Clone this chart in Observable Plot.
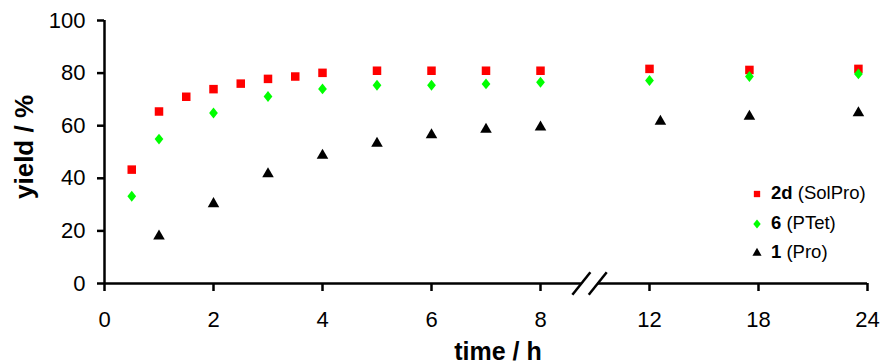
<!DOCTYPE html>
<html>
<head>
<meta charset="utf-8">
<script src="https://cdn.jsdelivr.net/npm/d3@7"></script>
<script src="https://cdn.jsdelivr.net/npm/@observablehq/plot@0.6"></script>
<style>
  html, body { margin: 0; padding: 0; background: #fff; }
  #wrap { position: relative; width: 882px; height: 363px; overflow: hidden; font-family: "Liberation Sans", Arial, sans-serif; }
  #legend { position: absolute; left: 750px; top: 180px; font-size: 18.5px; color: #000; }
  #legend .row { position: absolute; left: 0; white-space: nowrap; height: 26px; line-height: 26px; }
  #legend svg { vertical-align: middle; margin-right: 7px; }
</style>
</head>
<body>
<div id="wrap"></div>
<script>
// ---- data ----
const seriesNames = ["2d", "6", "1"];
const seriesNotes = ["(SolPro)", "(PTet)", "(Pro)"];
const seriesColors = ["#ff0000", "#00ff00", "#000000"];

const time2d = [0.5, 1, 1.5, 2, 2.5, 3, 3.5, 4, 5, 6, 7, 8, 12, 17.5, 23.5];
const yield2d = [43.3, 65.4, 71.0, 73.9, 76.0, 77.8, 78.7, 80.1, 80.9, 80.9, 80.9, 80.9, 81.6, 81.2, 81.6];

const time6 = [0.5, 1, 2, 3, 4, 5, 6, 7, 8, 12, 17.5, 23.5];
const yield6 = [33.2, 54.9, 64.8, 71.1, 74.0, 75.4, 75.4, 75.9, 76.5, 77.2, 78.7, 79.7];

const time1 = [1, 2, 3, 4, 5, 6, 7, 8, 12.6, 17.5, 23.5];
const yield1 = [18.0, 30.3, 41.7, 48.7, 53.3, 56.5, 58.6, 59.4, 61.6, 63.5, 64.9];

const xTicks = [0, 2, 4, 6, 8, 12, 18, 24];
const yTicks = [0, 20, 40, 60, 80, 100];
const axisBreaks = [9.5, 10.1];   // where the time axis is broken (h)

// ---- symbols ----
// a diamond a little wider than d3's (Excel-like marker)
const wideDiamond = {
  draw(context, size) {
    const h = Math.sqrt(size / 1.6);      // half-height, area = 2*w*h with w = 0.8h
    const w = 0.8 * h;
    context.moveTo(0, -h);
    context.lineTo(w, 0);
    context.lineTo(0, h);
    context.lineTo(-w, 0);
    context.closePath();
  }
};
const seriesSymbols = [d3.symbolSquare, wideDiamond, d3.symbolTriangle];

// ---- build table ----
const rows = [];
[[time2d, yield2d], [time6, yield6], [time1, yield1]].forEach(([ts, ys], i) => {
  ts.forEach((t, j) => rows.push({t, y: ys[j], s: seriesNames[i]}));
});

const font = "Liberation Sans, Arial, sans-serif";

// broken time axis: piecewise-linear scale (0–8 h, gap, 12–24 h compressed)
const plot = Plot.plot({
  width: 882,
  height: 363,
  marginLeft: 104,
  marginRight: 15,
  marginTop: 20,
  marginBottom: 80,
  style: {fontFamily: font, background: "#fff", color: "#000"},
  x: {type: "linear", domain: [0, 8, 12, 24], range: [104, 540, 649, 867]},
  y: {domain: [0, 100]},
  color: {domain: seriesNames, range: seriesColors},
  symbol: {domain: seriesNames, range: seriesSymbols},
  marks: [
    Plot.axisY({ticks: yTicks, tickSize: 7, tickPadding: 12, fontSize: 22, strokeWidth: 2.5, label: null}),
    Plot.axisX({ticks: xTicks, tickSize: 8, tickPadding: 20, fontSize: 22, strokeWidth: 2.5, label: null, tickFormat: d => String(d)}),
    Plot.ruleX([0], {y1: 0, y2: 100, strokeWidth: 2.5}),
    Plot.ruleY([0], {x1: 0, x2: axisBreaks[0], strokeWidth: 2.5}),
    Plot.ruleY([0], {x1: axisBreaks[1], x2: 24, strokeWidth: 2.5}),
    Plot.link(axisBreaks, {x1: d => d - 0.33, y1: -4.3, x2: d => d + 0.33, y2: 4.3, strokeWidth: 2.5, stroke: "#000"}),
    Plot.dot(rows.filter(d => d.s === "2d"), {x: "t", y: "y", symbol: "s", fill: "s", r: 4.8}),
    Plot.dot(rows.filter(d => d.s === "6"), {x: "t", y: "y", symbol: "s", fill: "s", r: 3.9}),
    Plot.dot(rows.filter(d => d.s === "1"), {x: "t", y: "y", symbol: "s", fill: "s", r: 4.3}),
    Plot.text(["time / h"], {frameAnchor: "bottom", dx: 12, dy: 68, textAnchor: "middle", lineAnchor: "middle", fontSize: 25, fontWeight: "bold", fill: "#000"}),
    Plot.text(["yield / %"], {frameAnchor: "left", dx: -80, dy: -5, rotate: -90, textAnchor: "middle", lineAnchor: "middle", fontSize: 26, fontWeight: "bold", fill: "#000"})
  ]
});

const wrap = document.getElementById("wrap");
wrap.appendChild(plot);

// legend (inside the plot area)
const legend = document.createElement("div");
legend.id = "legend";
const rowTops = [0, 30, 59];
const legendSizes = [40, 34, 36];
seriesNames.forEach((name, i) => {
  const row = document.createElement("div");
  row.className = "row";
  row.style.top = rowTops[i] + "px";
  const sym = d3.symbol(seriesSymbols[i], legendSizes[i])();
  row.innerHTML = `<svg width="14" height="14" viewBox="-7 -7 14 14"><path d="${sym}" fill="${seriesColors[i]}"/></svg>` +
    `<b>${name}</b> ${seriesNotes[i]}`;
  legend.appendChild(row);
});
wrap.appendChild(legend);
</script>
</body>
</html>
